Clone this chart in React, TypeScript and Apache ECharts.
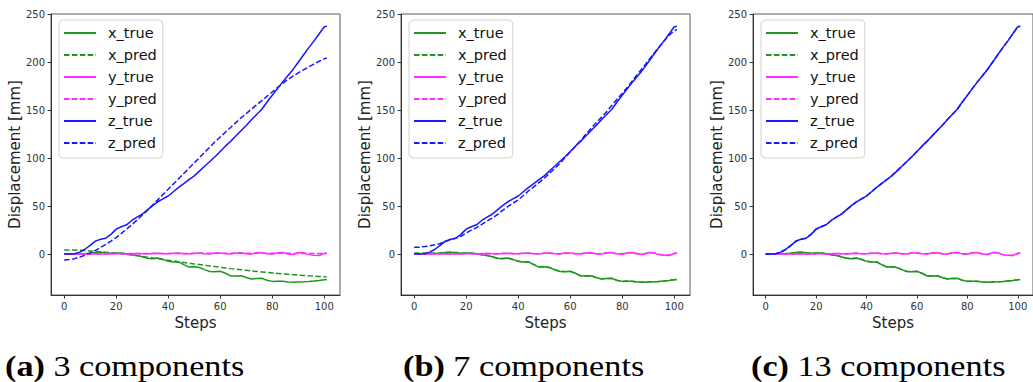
import React, { useEffect, useRef } from "react";
import * as echarts from "echarts";

// Sampled time steps shared by every trajectory
const steps = [
  0, 2, 4, 6, 8, 10, 12, 14, 16, 18, 20, 22, 24, 26, 28, 30, 32, 34, 36, 38,
  40, 42, 44, 46, 48, 50, 52, 54, 56, 58, 60, 62, 64, 66, 68, 70, 72, 74, 76,
  78, 80, 82, 84, 86, 88, 90, 92, 94, 96, 98, 100, 101,
];

// Ground-truth displacement [mm]
const xTrue = [
  0, 0, 0, 0.2, 0.5, 0.9, 1.5, 2, 1.4, 0.9, 1.2, 1.1, 0.2, -0.8, -1.4, -2.8,
  -4.3, -4.8, -4.2, -5.6, -7.6, -8.4, -8.2, -11, -13.6, -13.2, -14, -16.2,
  -18.2, -18.4, -18, -20, -22.8, -23, -22.6, -24.5, -26, -25.5, -25.3, -27.4,
  -28.5, -28.3, -28.4, -29.2, -29.4, -29.1, -29, -28.7, -28.2, -27.6, -26.9,
  -26.5,
];
const yTrue = [
  0, 0, 0, 0, 0, 0.1, 0.2, 0.1, 0, 0.1, 0.3, 0.2, 0, 0.4, 0.6, 0.2, 0.1, 0.6,
  0.8, 0.3, 0.2, 0.9, 1, 0.4, 0.1, 0.9, 1.1, 0.4, 0.1, 1, 1.2, 0.3, 0, 1.2,
  1.4, 0.3, -0.1, 1.3, 1.5, 0.2, -0.3, 1.4, 1.6, 0.1, -0.5, 1.5, 1.4, -0.6,
  -1.2, -1.5, 0.6, 1,
];
const zTrue = [
  0, 0, 0.3, 2, 5, 9, 13.5, 15.5, 16.5, 20.5, 26, 28.5, 30.5, 35, 38.5, 41.5,
  46, 50.5, 54.5, 57.5, 60.5, 65, 69.5, 73.5, 77.5, 81.5, 86.5, 91.5, 96.5,
  101.5, 107, 112.5, 117.5, 123, 128.5, 134, 140, 145.5, 151, 158.5, 165.5,
  172.5, 179.5, 186, 192.5, 200, 207.5, 215, 222, 229.5, 237, 237.5,
];

// Predictions, 3 components
const xPredA = [
  4.3, 4.2, 4.1, 3.9, 3.6, 3.3, 2.9, 2.5, 2, 1.5, 1, 0.4, -0.3, -1, -1.7,
  -2.4, -3.2, -4, -4.8, -5.6, -6.4, -7.2, -8, -8.8, -9.6, -10.3, -11, -11.7,
  -12.4, -13.1, -13.8, -14.5, -15.2, -15.8, -16.4, -17, -17.6, -18.2, -18.7,
  -19.2, -19.7, -20.2, -20.7, -21.1, -21.5, -21.9, -22.3, -22.7, -23, -23.3,
  -23.6, -23.8,
];
const yPredA = [
  0.2, 0.2, 0.3, 0.3, 0.3, 0.4, 0.4, 0.4, 0.5, 0.5, 0.5, 0.5, 0.6, 0.6, 0.6,
  0.6, 0.6, 0.7, 0.7, 0.7, 0.7, 0.7, 0.7, 0.7, 0.7, 0.7, 0.8, 0.8, 0.8, 0.8,
  0.8, 0.8, 0.8, 0.8, 0.8, 0.8, 0.8, 0.8, 0.8, 0.8, 0.8, 0.8, 0.8, 0.8, 0.7,
  0.7, 0.7, 0.7, 0.7, 0.6, 0.6, 0.6,
];
const zPredA = [
  -6.2, -5.8, -4.8, -3.2, -1.2, 1.2, 3.8, 6.8, 10, 13.5, 17.2, 21.5, 26, 30.5,
  35.5, 40.5, 45.5, 51, 56.5, 62, 67.5, 73, 78.5, 84, 89.5, 95, 100.5, 106,
  111.5, 117, 122, 127, 132, 137, 142, 146.5, 151, 155.5, 160, 164.5, 169,
  173.5, 178, 182, 185.5, 189, 192, 195, 198, 201, 203.5, 204.5,
];

// Predictions, 7 components
const xPredB = [
  1.2, 1.1, 1, 1, 1.1, 1.3, 1.6, 1.9, 1.5, 1.1, 1.1, 0.9, 0.1, -0.8, -1.5,
  -2.9, -4.2, -4.6, -4.3, -5.8, -7.5, -8.2, -8.3, -11, -13.3, -13.1, -14.1,
  -16.3, -18, -18.2, -18.1, -20.1, -22.6, -22.8, -22.7, -24.6, -25.8, -25.4,
  -25.5, -27.5, -28.3, -28.2, -28.5, -29.1, -29.2, -29, -28.9, -28.6, -28.1,
  -27.5, -26.8, -26.4,
];
const yPredB = [
  0.3, 0.3, 0.3, 0.3, 0.3, 0.4, 0.4, 0.4, 0.4, 0.4, 0.5, 0.5, 0.4, 0.5, 0.6,
  0.5, 0.4, 0.6, 0.7, 0.5, 0.4, 0.8, 0.9, 0.5, 0.3, 0.8, 1, 0.5, 0.3, 0.9,
  1.1, 0.4, 0.2, 1.1, 1.2, 0.4, 0.1, 1.2, 1.3, 0.3, 0, 1.3, 1.4, 0.2, -0.2,
  1.3, 1.3, -0.3, -0.9, -1.1, 0.5, 0.8,
];
const zPredB = [
  7, 7.2, 7.8, 8.6, 9.6, 11, 13, 15, 16.5, 18.5, 22, 25, 27.5, 31, 34.5, 37.5,
  41, 45.5, 49.5, 53, 56.5, 61, 66, 70, 74.5, 79, 84, 89, 94.5, 100.5, 106.5,
  112.5, 118.5, 125, 131, 137, 142.5, 148.5, 155, 161.5, 167.5, 174, 181, 188,
  194.5, 201.5, 208.5, 215.5, 222, 228, 233, 234,
];

// Predictions, 13 components
const xPredC = [
  0.1, 0.1, 0.1, 0.3, 0.6, 1, 1.5, 1.9, 1.4, 1, 1.2, 1, 0.2, -0.8, -1.5, -2.9,
  -4.2, -4.7, -4.3, -5.7, -7.5, -8.3, -8.3, -11, -13.4, -13.2, -14.1, -16.2,
  -18.1, -18.3, -18.1, -20.1, -22.7, -22.9, -22.7, -24.5, -25.9, -25.5, -25.4,
  -27.4, -28.4, -28.3, -28.5, -29.1, -29.3, -29.1, -29, -28.7, -28.2, -27.6,
  -26.9, -26.6,
];
const yPredC = [
  0, 0, 0, 0, 0.1, 0.1, 0.2, 0.1, 0.1, 0.1, 0.3, 0.2, 0.1, 0.4, 0.6, 0.3, 0.1,
  0.6, 0.8, 0.3, 0.2, 0.9, 1, 0.4, 0.2, 0.9, 1.1, 0.4, 0.1, 1, 1.2, 0.3, 0.1,
  1.2, 1.4, 0.3, 0, 1.3, 1.5, 0.2, -0.3, 1.4, 1.6, 0.1, -0.5, 1.5, 1.4, -0.6,
  -1.2, -1.5, 0.6, 1,
];
const zPredC = [
  0, 0.1, 0.4, 2.1, 5, 9, 13.4, 15.5, 16.6, 20.6, 26, 28.4, 30.6, 35, 38.6,
  41.6, 46, 50.4, 54.5, 57.6, 60.6, 65, 69.5, 73.6, 77.5, 81.6, 86.5, 91.4,
  96.5, 101.6, 107, 112.4, 117.6, 123, 128.6, 134, 140, 145.6, 151, 158.4,
  165.5, 172.6, 179.5, 186, 192.6, 200, 207.4, 215, 222, 229.4, 237, 237.4,
];

const seriesNames = ["x_true", "x_pred", "y_true", "y_pred", "z_true", "z_pred"];
const xTicks = [0, 20, 40, 60, 80, 100];
const yTicks = [0, 50, 100, 150, 200, 250];
const captionTags = ["(a)", "(b)", "(c)"];
const captionTexts = ["3 components", "7 components", "13 components"];

const panelData = [
  [xTrue, xPredA, yTrue, yPredA, zTrue, zPredA],
  [xTrue, xPredB, yTrue, yPredB, zTrue, zPredB],
  [xTrue, xPredC, yTrue, yPredC, zTrue, zPredC],
];

const SANS = "DejaVu Sans";
const SERIF = "Liberation Serif";
const GREEN = "#1f961f";
const MAGENTA = "#ff2bff";
const BLUE = "#1818ff";
const lineColors = [GREEN, GREEN, MAGENTA, MAGENTA, BLUE, BLUE];
const DASH = [5.5, 2.4];

const panelLeft = [51, 401, 753];
const captionLeft = [5, 403, 751];
const PLOT_TOP = 14;
const PLOT_W = 289;
const PLOT_H = 281;

function buildOption() {
  const grid = panelLeft.map((left) => ({
    left,
    top: PLOT_TOP,
    width: PLOT_W,
    height: PLOT_H,
    show: true,
    borderColor: "#5a5a5a",
    borderWidth: 1,
    backgroundColor: "transparent",
  }));

  const xAxis = panelLeft.map((_, i) => ({
    type: "value",
    gridIndex: i,
    min: -5.05,
    max: 106.05,
    name: "Steps",
    nameLocation: "middle",
    nameGap: 17,
    nameTextStyle: { fontFamily: SANS, fontSize: 15, color: "#222" },
    axisLine: { show: true, onZero: false, lineStyle: { color: "#333", width: 1 } },
    axisTick: { show: true, length: 3.5, customValues: xTicks, lineStyle: { color: "#333" } },
    axisLabel: { customValues: xTicks, fontFamily: SANS, fontSize: 10, color: "#333", margin: 6 },
    splitLine: { show: false },
  }));

  const yAxis = panelLeft.map((_, i) => ({
    type: "value",
    gridIndex: i,
    min: -42.7,
    max: 250.3,
    name: "Displacement [mm]",
    nameLocation: "middle",
    nameGap: 28,
    nameTextStyle: { fontFamily: SANS, fontSize: 15, color: "#222" },
    axisLine: { show: true, onZero: false, lineStyle: { color: "#333", width: 1 } },
    axisTick: { show: true, length: 3.5, customValues: yTicks, lineStyle: { color: "#333" } },
    axisLabel: { customValues: yTicks, fontFamily: SANS, fontSize: 10, color: "#333", margin: 6 },
    splitLine: { show: false },
  }));

  // Legend keys are plain line samples (solid or dashed), no marker
  const legend = panelLeft.map((left) => ({
    left: left + 8,
    top: 20,
    orient: "vertical",
    data: seriesNames,
    itemWidth: 32,
    itemHeight: 14,
    itemGap: 6,
    padding: [5, 6, 7, 4],
    backgroundColor: "rgba(255,255,255,0.85)",
    borderColor: "#d4d4d4",
    borderWidth: 1,
    borderRadius: 4,
    itemStyle: { opacity: 0, borderWidth: 0 },
    textStyle: {
      fontFamily: SANS,
      fontSize: 14.5,
      color: "#111",
      lineHeight: 16,
      padding: [0, 0, 0, 7],
    },
  }));

  const series: any[] = [];
  panelData.forEach((arrays, p) => {
    arrays.forEach((values, k) => {
      series.push({
        type: "line",
        name: seriesNames[k],
        xAxisIndex: p,
        yAxisIndex: p,
        data: steps.map((s, i) => [s, values[i]]),
        symbol: "none",
        silent: true,
        clip: true,
        color: lineColors[k],
        lineStyle: {
          color: lineColors[k],
          width: 1.5,
          type: k % 2 === 1 ? DASH : "solid",
        },
      });
    });
  });

  const graphic = captionTags.map((tag, i) => ({
    type: "text",
    x: captionLeft[i],
    y: 366,
    scaleX: 1.14,
    scaleY: 1,
    silent: true,
    style: {
      text: `{b|${tag}} ${captionTexts[i]}`,
      fontFamily: SERIF,
      fontSize: 30,
      fill: "#000",
      align: "left",
      verticalAlign: "middle",
      rich: {
        b: { fontFamily: SERIF, fontSize: 30, fontWeight: "bold", fill: "#000" },
      },
    },
  }));

  return {
    animation: false,
    backgroundColor: "#ffffff",
    grid,
    xAxis,
    yAxis,
    legend,
    series,
    graphic,
  };
}

export default function App() {
  const ref = useRef<HTMLDivElement>(null);

  useEffect(() => {
    document.body.style.margin = "0";
    if (!ref.current) return;
    const chart = echarts.init(ref.current, undefined, { renderer: "svg" });
    chart.setOption(buildOption() as any);
    return () => {
      chart.dispose();
    };
  }, []);

  return <div ref={ref} style={{ width: 1033, height: 382 }} />;
}
